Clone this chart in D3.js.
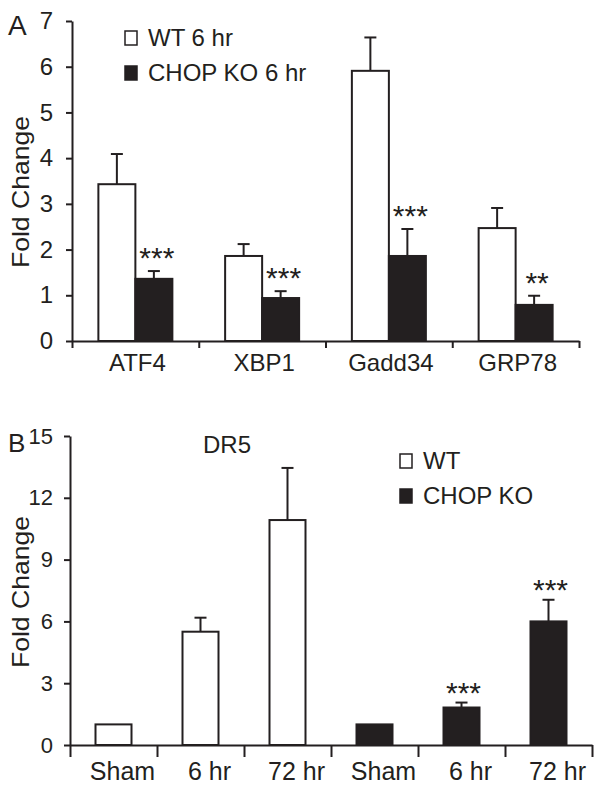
<!DOCTYPE html>
<html><head><meta charset="utf-8">
<script src="https://cdn.jsdelivr.net/npm/d3@7"></script>
<style>
body{margin:0;background:#fff;}
text{font-family:"Liberation Sans",Arial,sans-serif;fill:#231f20;}
</style></head>
<body>
<svg id="chart" width="601" height="791"></svg>
<script>
// ---- Panel A data ----
const catsA = ["ATF4", "XBP1", "Gadd34", "GRP78"];
const seriesA = ["WT 6 hr", "CHOP KO 6 hr"];
const wtA = [3.43, 1.86, 5.91, 2.47];
const wtAErr = [0.66, 0.26, 0.73, 0.44];
const koA = [1.36, 0.94, 1.86, 0.79];
const koAErr = [0.17, 0.15, 0.59, 0.20];
const sigA = ["***", "***", "***", "**"];
const ticksA = [0, 1, 2, 3, 4, 5, 6, 7];

// ---- Panel B data ----
const catsB = ["Sham", "6 hr", "72 hr", "Sham", "6 hr", "72 hr"];
const groupB = ["WT", "WT", "WT", "CHOP KO", "CHOP KO", "CHOP KO"];
const seriesB = ["WT", "CHOP KO"];
const valB = [1.0, 5.5, 10.92, 1.0, 1.82, 6.0];
const errB = [0, 0.68, 2.53, 0, 0.24, 1.05];
const sigB = ["", "", "", "", "***", "***"];
const ticksB = [0, 3, 6, 9, 12, 15];
const titleB = "DR5";

const INK = "#231f20";
const svg = d3.select("#chart");

function styleAxis(g){
  g.selectAll("path,line").attr("stroke", INK).attr("stroke-width", 2);
  g.selectAll("text").attr("fill", INK).style("font-family", '"Liberation Sans",Arial,sans-serif');
}

function yTitle(cx, cy){
  svg.append("text")
    .attr("transform", `translate(${cx},${cy}) rotate(-90)`)
    .attr("text-anchor", "middle")
    .attr("textLength", 152).attr("lengthAdjust", "spacingAndGlyphs")
    .style("font-size", "24px")
    .text("Fold Change");
}

function errorBar(g, cx, yTop, yErr){
  g.append("line").attr("x1", cx).attr("x2", cx).attr("y1", yTop).attr("y2", yErr)
    .attr("stroke", INK).attr("stroke-width", 2);
  g.append("line").attr("x1", cx - 6).attr("x2", cx + 6).attr("y1", yErr).attr("y2", yErr)
    .attr("stroke", INK).attr("stroke-width", 2);
}

function legend(x, y, labels){
  labels.forEach((lab, i) => {
    const yy = y + i * 35;
    svg.append("rect").attr("x", x).attr("y", yy - 15).attr("width", 12).attr("height", 14)
      .attr("fill", i === 0 ? "#fff" : INK).attr("stroke", INK).attr("stroke-width", 1.5);
    svg.append("text").attr("x", x + 23).attr("y", yy).style("font-size", "24px").text(lab);
  });
}

// ================= Panel A =================
(function(){
  const left = 72, right = 579, top = 21, bottom = 341;
  const y = d3.scaleLinear().domain([0, 7]).range([bottom, top]);
  const x0 = d3.scaleBand().domain(catsA).range([left, right]).padding(0);
  const groupW = 74;
  const x1 = d3.scaleBand().domain(seriesA).range([0, groupW]).padding(0);
  const off = (x0.bandwidth() - groupW) / 2;

  const ya = svg.append("g").attr("transform", `translate(${left},0)`)
    .call(d3.axisLeft(y).tickValues(ticksA).tickFormat(d3.format("d")).tickSize(6).tickSizeOuter(0).tickPadding(13));
  ya.selectAll("text").style("font-size", "24px");
  styleAxis(ya);

  const xb = d3.scaleLinear().domain([0, catsA.length]).range([left, right]);
  const xa = svg.append("g").attr("transform", `translate(0,${bottom})`)
    .call(d3.axisBottom(xb).tickValues(d3.range(catsA.length + 1)).tickSize(7).tickSizeOuter(0).tickFormat(""));
  styleAxis(xa);
  const xl = svg.append("g").attr("transform", `translate(2,${bottom})`)
    .call(d3.axisBottom(x0).tickSize(0).tickPadding(13));
  xl.select(".domain").remove();
  xl.selectAll("text").style("font-size", "24px").attr("dy", "0.71em");
  styleAxis(xl);

  const g = svg.append("g");
  catsA.forEach((c, i) => {
    const vals = [[wtA[i], wtAErr[i], "#fff"], [koA[i], koAErr[i], INK]];
    vals.forEach((v, j) => {
      const bx = x0(c) + off + x1(seriesA[j]);
      const bw = x1.bandwidth();
      errorBar(g, bx + bw / 2, y(v[0]), y(v[0] + v[1]));
      g.append("rect").attr("x", bx).attr("y", y(v[0])).attr("width", bw)
        .attr("height", y(0) - y(v[0])).attr("fill", v[2]).attr("stroke", INK).attr("stroke-width", 2);
    });
    const kx = x0(c) + off + x1(seriesA[1]) + x1.bandwidth() / 2;
    g.append("text").attr("x", kx + 3).attr("y", y(koA[i] + koAErr[i]) - 3)
      .attr("text-anchor", "middle").style("font-size", "30px").text(sigA[i]);
  });

  yTitle(29, 192);
  svg.append("text").attr("x", 8).attr("y", 35).style("font-size", "28px").text("A");
  legend(125, 46, seriesA);
})();

// ================= Panel B =================
(function(){
  const left = 70, right = 592, top = 436, bottom = 745;
  const y = d3.scaleLinear().domain([0, 15]).range([bottom, top]);
  const idx = d3.range(catsB.length);
  const x = d3.scaleBand().domain(idx).range([left, right]).padding(0);
  const barW = 36;

  const ya = svg.append("g").attr("transform", `translate(${left},0)`)
    .call(d3.axisLeft(y).tickValues(ticksB).tickFormat(d3.format("d")).tickSize(6).tickSizeOuter(0).tickPadding(11));
  ya.selectAll("text").style("font-size", "22px");
  styleAxis(ya);

  const xb = d3.scaleLinear().domain([0, catsB.length]).range([left, right]);
  const xa = svg.append("g").attr("transform", `translate(0,${bottom})`)
    .call(d3.axisBottom(xb).tickValues(d3.range(catsB.length + 1)).tickSize(12).tickSizeOuter(0).tickFormat(""));
  styleAxis(xa);
  const xl = svg.append("g").attr("transform", `translate(9,${bottom})`)
    .call(d3.axisBottom(x).tickSize(0).tickPadding(17).tickFormat(i => catsB[i]));
  xl.select(".domain").remove();
  xl.selectAll("text").style("font-size", "25px").attr("dy", "0.71em");
  styleAxis(xl);

  const g = svg.append("g");
  idx.forEach(i => {
    const bx = x(i) + (x.bandwidth() - barW) / 2;
    const fill = groupB[i] === "WT" ? "#fff" : INK;
    if (errB[i] > 0) errorBar(g, bx + barW / 2, y(valB[i]), y(valB[i] + errB[i]));
    g.append("rect").attr("x", bx).attr("y", y(valB[i])).attr("width", barW)
      .attr("height", y(0) - y(valB[i])).attr("fill", fill).attr("stroke", INK).attr("stroke-width", 2);
    if (sigB[i]) g.append("text").attr("x", bx + barW / 2 + 2).attr("y", y(valB[i] + errB[i]))
      .attr("text-anchor", "middle").style("font-size", "30px").text(sigB[i]);
  });

  yTitle(29, 592);
  svg.append("text").attr("x", 8).attr("y", 452).style("font-size", "26px").text("B");
  svg.append("text").attr("x", 227).attr("y", 453).attr("text-anchor", "middle").style("font-size", "24px").text(titleB);
  legend(400, 469, seriesB);
})();
</script>
</body></html>
